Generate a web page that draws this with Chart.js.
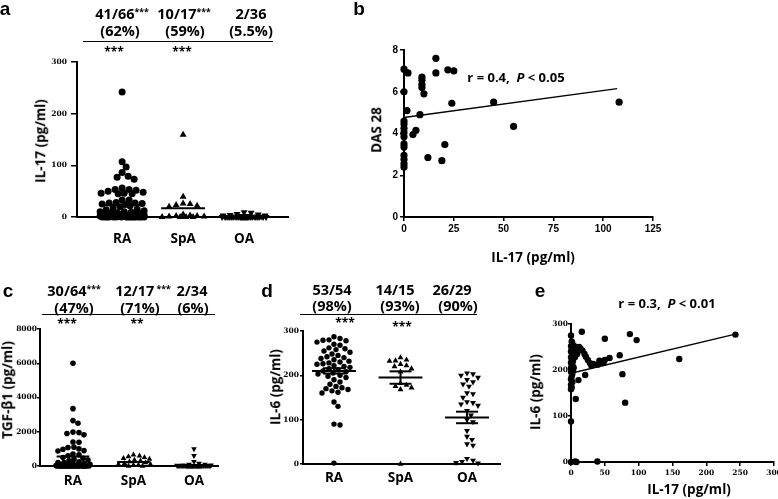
<!DOCTYPE html>
<html>
<head>
<meta charset="utf-8">
<script src="https://cdn.jsdelivr.net/npm/chart.js@4.4.1/dist/chart.umd.min.js"></script>
<style>
  body { margin: 0; background: #fff; width: 778px; height: 499px; position: relative; overflow: hidden;
         font-family: "Open Sans", Lato, sans-serif; font-weight: 700; color: #000; }
  canvas { position: absolute; }
  .t { position: absolute; white-space: nowrap; line-height: 1; transform: translate(-50%, -50%); }
  .rot { transform: translate(-50%, -50%) rotate(-90deg); }
  .rule { position: absolute; height: 0; border-top: 1.5px solid #000; }
  sup { font-size: 0.6em; vertical-align: 0.45em; line-height: 0; }
</style>
</head>
<body>
<canvas id="pa" width="300" height="255" style="left:0;top:0"></canvas>
<canvas id="pb" width="340" height="245" style="left:330px;top:0"></canvas>
<canvas id="pc" width="240" height="249" style="left:0;top:250px"></canvas>
<canvas id="pd" width="260" height="249" style="left:260px;top:250px"></canvas>
<canvas id="pe" width="272" height="249" style="left:520px;top:250px"></canvas>

<script>
/* ---------- data ---------- */
const groups = ['RA', 'SpA', 'OA'];

// (a) IL-17 (pg/ml) per group
const il17RA = [242, 107, 97, 86, 79, 77, 73, 56, 53, 53, 52, 50, 48, 46, 46, 45, 45, 33, 33, 28, 27, 27, 26, 25, 24,
                22, 20, 18, 15, 14, 12, 10, 10, 9, 8, 8, 7, 6, 5, 5, 4, 4, 3, 3, 2, 2, 2, 1, 1, 1,
                0, 0, 0, 0, 0, 0, 0, 0, 0, 0, 0, 0, 0, 0, 0, 0];
const il17SpA = [159, 39, 26, 25, 23, 22, 20, 5, 3, 2, 2, 1, 1, 0, 0, 0, 0];
const il17OA = [9, 8, 6, 5, 4, 3, 3, 2, 2, 1, 1, 1, 0, 0, 0, 0, 0, 0, 0, 0, 0, 0, 0, 0,
                0, 0, 0, 0, 0, 0, 0, 0, 0, 0, 0, 0];
const il17Mean = [23, 17, 2];
const il17Frac = ['41/66', '10/17', '2/36'];
const il17Sup = ['***', '***', ''];
const il17Pct = ['(62%)', '(59%)', '(5.5%)'];
const il17Sig = ['***', '***', ''];

// (b) DAS 28 vs IL-17
const dasX = [0, 2, 0, 1.5, 0, 0, 0, 0, 0, 0, 0, 0, 0, 0, 0, 4.5, 6, 8, 9, 9, 9, 9, 10, 16, 16, 22, 25, 24,
              12, 19, 20.5, 45, 55, 108];
const dasY = [7.08, 6.9, 6.0, 5.1, 4.6, 4.45, 4.25, 4.05, 3.85, 3.5, 3.35, 2.95, 2.75, 2.55, 2.4, 3.95, 4.15, 4.9,
              6.7, 6.55, 6.35, 6.2, 5.9, 7.6, 6.9, 7.05, 7.0, 5.45, 2.85, 2.7, 3.47, 5.5, 4.34, 5.5];
const dasFitX = [0, 107];
const dasFitY = [4.77, 6.15];

// (c) TGF-beta1 (pg/ml) per group
const tgfRA = [6000, 3350, 2650, 2500, 1980, 1950, 1900, 1820, 1400, 1380, 1100, 1080, 1000, 980, 900, 880, 700,
               650, 600, 500, 450, 400, 350, 300, 250, 200, 200, 150, 150, 100, 100, 80, 50, 50, 30, 20, 10,
               0, 0, 0, 0, 0, 0, 0, 0, 0, 0, 0, 0, 0, 0, 0, 0, 0, 0, 0, 0, 0, 0, 0, 0, 0, 0, 0];
const tgfSpA = [650, 600, 550, 500, 450, 400, 350, 300, 250, 200, 150, 100, 100, 50, 50, 0, 0];
const tgfOA = [1000, 600, 250, 150, 100, 100, 50, 50, 30, 20, 0, 0, 0, 0, 0, 0, 0, 0, 0, 0, 0, 0,
               0, 0, 0, 0, 0, 0, 0, 0, 0, 0, 0, 0];
const tgfMean = [560, 240, 60];
const tgfFrac = ['30/64', '12/17', '2/34'];
const tgfSup = ['***', ' ***', ''];
const tgfPct = ['(47%)', '(71%)', '(6%)'];
const tgfSig = ['***', '**', ''];

// (d) IL-6 (pg/ml) per group
const il6RA = [287, 283, 280, 279, 278, 275, 270, 268, 262, 260, 258, 255, 252, 248, 245, 242, 240, 238, 235, 232,
               230, 228, 226, 225, 222, 220, 218, 215, 212, 210, 208, 205, 203, 200, 198, 195, 190, 185, 180, 175,
               172, 170, 168, 165, 162, 160, 140, 130, 90, 88, 2];
const il6SpA = [240, 235, 233, 232, 225, 222, 220, 215, 208, 182, 178, 175, 172, 168, 0];
const il6OA = [205, 203, 200, 195, 190, 185, 180, 175, 160, 158, 150, 140, 138, 135, 132, 120, 110, 100, 95, 75,
               62, 55, 45, 42, 12, 8, 5, 3, 2];
const il6Mean = [210, 195, 105];
const il6Sem = [6, 14, 13];
const il6Frac = ['53/54', '14/15', '26/29'];
const il6Pct = ['(98%)', '(93%)', '(90%)'];
const il6Sig = ['***', '***', ''];

// (e) IL-6 vs IL-17
const corrX = [243, 160, 87, 97, 50, 72, 76, 80, 57, 50, 48, 42, 40, 33, 30, 28, 25, 22, 20, 17, 14, 12, 16, 11, 21,
               7, 0, 0, 6, 8, 39, 0, 1, 2, 0, 3, 1, 0, 4, 2, 0, 1, 3, 0, 2, 1, 0, 3, 0, 2, 1, 0, 2, 0, 1, 0,
               5, 8, 6, 9, 4];
const corrY = [277, 224, 278, 265, 268, 232, 191, 129, 226, 222, 215, 220, 212, 213, 210, 215, 222, 229, 235, 242,
               247, 250, 283, 178, 189, 137, 88, 0, 1, 0, 1, 275, 262, 258, 252, 248, 244, 240, 236, 232, 228,
               224, 220, 216, 212, 208, 204, 200, 196, 192, 186, 180, 174, 168, 162, 158, 252, 246, 228, 235, 205];
const corrFitX = [0, 243];
const corrFitY = [193, 278];

/* ---------- shared helpers ---------- */
const serifTick = { family: 'DejaVu Serif', weight: 'bold', size: 7.5 };
const sansTick = { family: 'Liberation Sans', weight: 'bold', size: 10 };
const catFont = { family: 'Open Sans', weight: 'bold', size: 13.5 };

function baseOptions(box, xScale, yScale) {
  xScale.afterFit = s => { s.height = box.h - box.b; };
  yScale.afterFit = s => { s.width = box.l; };
  return {
    responsive: false, animation: false, events: [],
    layout: { autoPadding: false, padding: { left: 0, top: box.t, right: box.w - box.r, bottom: 0 } },
    plugins: { legend: { display: false }, tooltip: { enabled: false } },
    scales: { x: xScale, y: yScale }
  };
}

function valueAxis(min, max, step, font, tickLen, pad) {
  return {
    type: 'linear', min: min, max: max,
    ticks: { stepSize: step, font: font, color: '#000', padding: pad, maxRotation: 0, callback: v => String(v) },
    grid: { drawOnChartArea: false, drawTicks: true, tickLength: tickLen, color: '#000', lineWidth: 1.5 },
    border: { display: true, color: '#000', width: 2 }
  };
}

function categoryAxis(min, max, pad) {
  return {
    type: 'linear', min: min, max: max,
    afterBuildTicks: s => { s.ticks = groups.map((g, i) => ({ value: i + 1 })); },
    ticks: { callback: v => groups[v - 1], font: catFont, color: '#000', padding: pad, autoSkip: false, maxRotation: 0 },
    grid: { display: false, drawTicks: false },
    border: { display: true, color: '#000', width: 2 }
  };
}

function segment(x0, y0, x1, y1) {
  return { data: [{ x: x0, y: y0 }, { x: x1, y: y1 }], showLine: true, pointRadius: 0,
           borderColor: '#000', borderWidth: 2, clip: false };
}

// simple beeswarm: nearest free horizontal slot (pixels) for each value
function swarmOffsets(pixY, sep, maxHalf) {
  const order = pixY.map((_, i) => i).sort((a, b) => pixY[a] - pixY[b]);
  const placed = [];
  const off = new Array(pixY.length).fill(0);
  order.forEach(i => {
    const y = pixY[i];
    let best = 0, bestD = -1;
    for (let k = 0; k <= 2 * Math.floor(maxHalf); k++) {
      const dx = (k % 2 ? 1 : -1) * Math.ceil(k / 2);
      let d = Infinity;
      placed.forEach(p => { d = Math.min(d, Math.hypot(p.x - dx, p.y - y)); });
      if (d >= sep) { best = dx; break; }
      if (d > bestD) { bestD = d; best = dx; }
    }
    off[i] = best;
    placed.push({ x: best, y: y });
  });
  return off;
}

function spreadDots(chart, sep, maxHalf) {
  const xs = chart.scales.x, ys = chart.scales.y;
  const unit = xs.getPixelForValue(2) - xs.getPixelForValue(1);
  chart.data.datasets.forEach(ds => {
    if (!ds.swarm) return;
    const off = swarmOffsets(ds.data.map(p => ys.getPixelForValue(p.y)), sep, maxHalf);
    ds.data = ds.data.map((p, i) => ({ x: p.x + off[i] / unit, y: p.y }));
  });
  chart.update('none');
}

function dotPlot(id, cfg) {
  const datasets = [];
  cfg.series.forEach((vals, g) => {
    const m = cfg.marks[g];
    datasets.push({ data: vals.map(v => ({ x: g + 1, y: v })), swarm: true, clip: false,
                    pointStyle: m.style, rotation: m.rot || 0, pointRadius: m.r,
                    backgroundColor: '#000', borderColor: '#000', borderWidth: 0, showLine: false });
  });
  cfg.means.forEach((m, g) => {
    datasets.push(segment(g + 1 - cfg.meanHalf, m, g + 1 + cfg.meanHalf, m));
    if (cfg.sems) {
      const s = cfg.sems[g];
      datasets.push(segment(g + 1, m - s, g + 1, m + s));
      datasets.push(segment(g + 1 - cfg.capHalf, m - s, g + 1 + cfg.capHalf, m - s));
      datasets.push(segment(g + 1 - cfg.capHalf, m + s, g + 1 + cfg.capHalf, m + s));
    }
  });
  const chart = new Chart(document.getElementById(id), {
    type: 'scatter',
    data: { datasets: datasets },
    options: baseOptions(cfg.box, categoryAxis(cfg.xMin, cfg.xMax, cfg.catPad),
                         valueAxis(0, cfg.yMax, cfg.yStep, serifTick, cfg.tickLen, cfg.tickPad))
  });
  spreadDots(chart, cfg.sep, cfg.maxHalf);
}

function corrPlot(id, box, xs, ys, fx, fy, r, xAxis, yAxis) {
  new Chart(document.getElementById(id), {
    type: 'scatter',
    data: { datasets: [
      { data: xs.map((x, i) => ({ x: x, y: ys[i] })), pointRadius: r, backgroundColor: '#000', borderWidth: 0, clip: false },
      { data: fx.map((x, i) => ({ x: x, y: fy[i] })), showLine: true, pointRadius: 0, borderColor: '#000', borderWidth: 1.5, clip: false }
    ] },
    options: baseOptions(box, xAxis, yAxis)
  });
}

/* ---------- panels ---------- */
const circle = { style: 'circle' }, up = { style: 'triangle' }, down = { style: 'triangle', rot: 180 };

dotPlot('pa', {
  box: { w: 300, h: 255, l: 77, t: 62, r: 288, b: 217 },
  xMin: 0.26, xMax: 3.72, yMax: 300, yStep: 100, tickLen: 6, tickPad: 4, catPad: 14,
  series: [il17RA, il17SpA, il17OA], means: il17Mean, meanHalf: 0.36,
  marks: [Object.assign({ r: 3.5 }, circle), Object.assign({ r: 4 }, up), Object.assign({ r: 4 }, down)],
  sep: 6.5, maxHalf: 22
});

corrPlot('pb', { w: 340, h: 245, l: 74, t: 50, r: 323, b: 217 }, dasX, dasY, dasFitX, dasFitY, 3.6,
  valueAxis(0, 125, 25, sansTick, 4, 2), valueAxis(0, 8, 2, sansTick, 4, 2));

dotPlot('pc', {
  box: { w: 240, h: 249, l: 40, t: 79, r: 218, b: 216 },
  xMin: 0.455, xMax: 3.397, yMax: 8000, yStep: 2000, tickLen: 3, tickPad: 0, catPad: 7,
  series: [tgfRA, tgfSpA, tgfOA], means: tgfMean, meanHalf: 0.27,
  marks: [Object.assign({ r: 2.8 }, circle), Object.assign({ r: 3.3 }, up), Object.assign({ r: 3.3 }, down)],
  sep: 5.2, maxHalf: 17
});

dotPlot('pd', {
  box: { w: 260, h: 249, l: 43, t: 81, r: 240, b: 214 },
  xMin: 0.534, xMax: 3.496, yMax: 300, yStep: 100, tickLen: 3, tickPad: 1, catPad: 6,
  series: [il6RA, il6SpA, il6OA], means: il6Mean, sems: il6Sem, meanHalf: 0.33, capHalf: 0.165,
  marks: [Object.assign({ r: 2.7 }, circle), Object.assign({ r: 3.4 }, up), Object.assign({ r: 3.4 }, down)],
  sep: 5.5, maxHalf: 19
});

// canvas runs past the page edge so the last x label is cut like in the figure
corrPlot('pe', { w: 272, h: 249, l: 51, t: 74, r: 254, b: 212 }, corrX, corrY, corrFitX, corrFitY, 3.2,
  valueAxis(0, 300, 50, serifTick, 4, 3), valueAxis(0, 300, 100, serifTick, 3, 0));

/* ---------- text overlay ---------- */
function put(html, x, y, size, extra) {
  const d = document.createElement('div');
  d.className = 't' + (extra && extra.rot ? ' rot' : '');
  d.innerHTML = html;
  d.style.left = x + 'px';
  d.style.top = y + 'px';
  d.style.fontSize = size + 'px';
  if (extra && extra.family) d.style.fontFamily = extra.family;
  document.body.appendChild(d);
}
function rule(x0, x1, y) {
  const d = document.createElement('div');
  d.className = 'rule';
  d.style.left = x0 + 'px'; d.style.width = (x1 - x0) + 'px'; d.style.top = y + 'px';
  document.body.appendChild(d);
}
function header(frac, sup, pct, sig, fx, px, sx, yF, yP, yS) {
  frac.forEach((f, i) => put(f + (sup && sup[i] ? '<sup>' + sup[i] + '</sup>' : ''), fx[i], yF, 14.5));
  pct.forEach((p, i) => put(p, px[i], yP, 14.5));
  sig.forEach((s, i) => { if (s) put(s, sx[i], yS[i], 12); });
}

const letter = { family: 'Liberation Sans' };
put('a', 5, 8, 19, letter);
put('b', 359, 8, 19, letter);
put('c', 8, 290, 19, letter);
put('d', 267, 290, 19, letter);
put('e', 540, 290, 19, letter);

header(il17Frac, il17Sup, il17Pct, il17Sig, [122, 184, 251], [120, 185, 251], [114, 182], 14, 31, [52, 52]);
rule(83, 273, 41);
header(tgfFrac, tgfSup, tgfPct, tgfSig, [74, 143, 192], [74, 140, 193], [67, 137], 291, 308, [324, 324]);
rule(42, 215, 314);
header(il6Frac, null, il6Pct, il6Sig, [332, 395, 452], [332, 400, 458], [345, 402], 290, 306, [323, 327]);
rule(300, 477, 314);

put('IL-17 (pg/ml)', 41, 141, 13.5, { rot: true });
put('DAS 28', 377, 130, 13.5, { rot: true });
put('IL-17 (pg/ml)', 533, 258, 13.5);
put('r = 0.4,&nbsp; <i>P</i> &lt; 0.05', 516, 77, 13);
put('TGF-β1 (pg/ml)', 8, 390, 13.5, { rot: true });
put('IL-6 (pg/ml)', 276, 387, 13.5, { rot: true });
put('IL-6 (pg/ml)', 536, 392, 13.5, { rot: true });
put('IL-17 (pg/ml)', 689, 490, 13.5);
put('r = 0.3,&nbsp; <i>P</i> &lt; 0.01', 667, 303, 13);
</script>
</body>
</html>
